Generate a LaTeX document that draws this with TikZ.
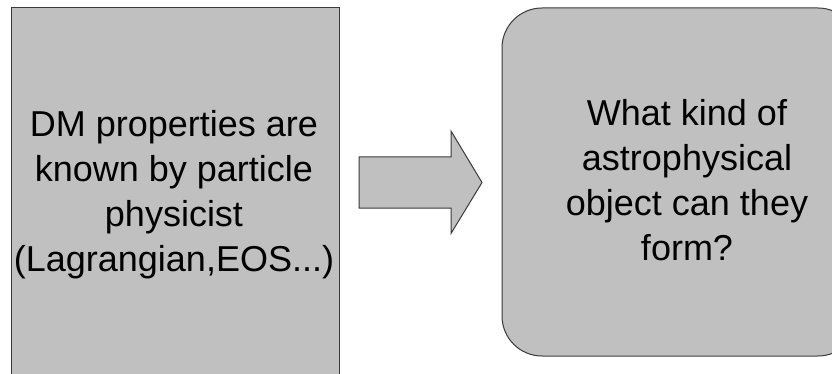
\documentclass[tikz,border=0pt]{standalone}
\usepackage{fontspec}
\setmainfont{Liberation Sans}
\usetikzlibrary{calc}
\definecolor{boxfill}{HTML}{C0C0C0}
\definecolor{boxline}{HTML}{3A3A3A}
\tikzset{
  panel/.style={draw=boxline, fill=boxfill, line width=1pt, inner sep=0pt},
  bigtext/.style={inner sep=0pt, align=center, font=\fontsize{36}{45}\selectfont, text=black},
}
\begin{document}
\begin{tikzpicture}[x=1pt,y=-1pt]
\useasboundingbox (0,0) rectangle (832,374);
\clip (0,0) rectangle (832,374);
% left box
\node[panel, rectangle, minimum width=328pt, minimum height=374pt] (leftbox) at (175,195) {};
\node[bigtext] (lefttext) at (174,194.5) {DM properties are\\known by particle\\physicist\\(Lagrangian,EOS...)};
% right box
\node[panel, rectangle, rounded corners=40pt, minimum width=356pt, minimum height=348pt] (rightbox) at (680,182) {};
\node[bigtext] (righttext) at (687,180) {What kind of\\astrophysical\\object can they\\form?};
% block arrow
\coordinate (as) at (359,182.5);
\coordinate (at) at (482,182.5);
\draw[boxline, fill=boxfill, line width=1pt, line join=miter]
  ($(as)+(0,-25.5)$) -- ++(92,0) -- ++(0,-26) -- (at) -- ($(as)+(92,51)$) -- ++(0,-25.5) -- ($(as)+(0,25.5)$) -- cycle;
\end{tikzpicture}
\end{document}
